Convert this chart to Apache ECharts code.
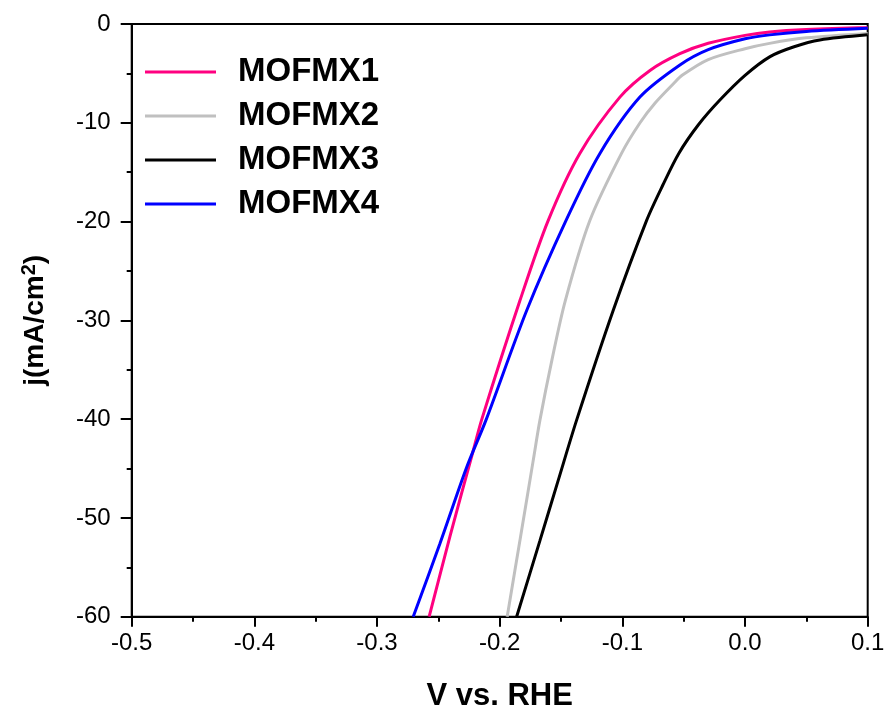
<!DOCTYPE html>
<html>
<head>
<meta charset="utf-8">
<script src="https://cdn.jsdelivr.net/npm/echarts@6/dist/echarts.min.js"></script>
<style>
html,body{margin:0;padding:0;background:#fff;}
#chart{width:888px;height:708px;}
</style>
</head>
<body>
<div id="chart"></div>
<script>
// Series names
var seriesNames = ['MOFMX1', 'MOFMX2', 'MOFMX3', 'MOFMX4'];

// [V vs. RHE, j (mA/cm2)]
var mofmx1 = [[-0.2575,-60],[-0.2406,-51.9],[-0.2216,-43.2],[-0.2148,-40.1],[-0.1835,-28],[-0.1605,-19.9],[-0.1347,-13.1],[-0.102,-7.4],[-0.0775,-4.7],[-0.0531,-3.0],[-0.03,-1.95],[0,-1.15],[0.02,-0.8],[0.05,-0.55],[0.1,-0.35]];
var mofmx2 = [[-0.1939,-60],[-0.183,-51.9],[-0.1727,-44.2],[-0.1672,-40.1],[-0.1574,-34],[-0.1465,-28],[-0.1265,-19.9],[-0.1007,-13.1],[-0.0856,-10],[-0.0733,-8],[-0.058,-6],[-0.051,-5.17],[-0.03,-3.6],[0,-2.5],[0.02,-1.96],[0.05,-1.4],[0.1,-0.95]];
var mofmx3 = [[-0.1862,-60],[-0.1672,-52.3],[-0.1523,-46.2],[-0.1373,-40.1],[-0.1075,-29],[-0.0803,-19.9],[-0.067,-16.3],[-0.054,-13.1],[-0.038,-10.2],[-0.0205,-7.7],[0,-5.2],[0.0204,-3.3],[0.04,-2.3],[0.061,-1.62],[0.1,-1.1]];
var mofmx4 = [[-0.2705,-60],[-0.2487,-52.6],[-0.227,-44.9],[-0.2112,-40.1],[-0.178,-29],[-0.146,-19.9],[-0.1183,-13.1],[-0.0857,-7.4],[-0.0531,-4.15],[-0.03,-2.6],[0,-1.5],[0.02,-1.1],[0.05,-0.75],[0.1,-0.44]];

var xTicks = [-0.5, -0.4, -0.3, -0.2, -0.1, 0.0, 0.1];
var yTicks = [-60, -50, -40, -30, -20, -10, 0];

var colors = ['#FF0080', '#C0C0C0', '#000000', '#0000FF'];
var FONT = 'Liberation Sans';

var chart = echarts.init(document.getElementById('chart'), null, {renderer: 'canvas'});

function mkSeries(name, data, color, z) {
  return {
    name: name, type: 'line', data: data, smooth: 0.3, showSymbol: false, symbol: 'none',
    lineStyle: {color: color, width: 3}, itemStyle: {color: color}, z: z, clip: true
  };
}

var lineIcon = 'path://M0,6 L71,6 L71,9 L0,9 Z';

var option = {
  animation: false,
  backgroundColor: '#fff',
  textStyle: {fontFamily: FONT},
  grid: {left: 131.7, right: 20.3, top: 24, bottom: 91.3, show: true, borderColor: '#000', borderWidth: 2, backgroundColor: 'transparent', containLabel: false, outerBoundsMode: 'none'},
  legend: {
    orient: 'vertical', left: 140, top: 50,
    itemWidth: 71, itemHeight: 14, itemGap: 10,
    data: seriesNames.map(function (n) { return {name: n, icon: lineIcon}; }),
    textStyle: {fontFamily: FONT, fontWeight: 'bold', fontSize: 33, color: '#000', lineHeight: 34, padding: [0, 0, 0, 17]}
  },
  xAxis: {
    type: 'value', min: xTicks[0], max: xTicks[xTicks.length - 1], interval: 0.1,
    name: 'V vs. RHE', nameLocation: 'middle', nameGap: 64,
    nameTextStyle: {fontFamily: FONT, fontWeight: 'bold', fontSize: 31, color: '#000'},
    axisLine: {show: true, onZero: false, lineStyle: {color: '#000', width: 2}},
    axisTick: {show: true, inside: false, length: 10, lineStyle: {color: '#000', width: 2}},
    minorTick: {show: true, splitNumber: 2, length: 5, lineStyle: {color: '#000', width: 2}},
    splitLine: {show: false},
    axisLabel: {
      fontFamily: FONT, fontSize: 24, color: '#000', margin: 15,
      formatter: function (v) { if (Math.abs(v) < 1e-9) return '0.0'; return v.toFixed(1); }
    }
  },
  yAxis: {
    type: 'value', min: yTicks[0], max: yTicks[yTicks.length - 1], interval: 10,
    name: '{a|j(mA/cm}{b|2}{a|)}', nameLocation: 'middle', nameGap: 80, nameRotate: 90,
    nameTextStyle: {
      fontFamily: FONT, fontWeight: 'bold', fontSize: 28, color: '#000',
      rich: {
        a: {fontFamily: FONT, fontWeight: 'bold', fontSize: 28, color: '#000', lineHeight: 32},
        b: {fontFamily: FONT, fontWeight: 'bold', fontSize: 20, color: '#000', lineHeight: 32, verticalAlign: 'top', padding: [0, 0, 10, 0]}
      }
    },
    axisLine: {show: true, onZero: false, lineStyle: {color: '#000', width: 2}},
    axisTick: {show: true, inside: false, length: 11, lineStyle: {color: '#000', width: 2}},
    minorTick: {show: true, splitNumber: 2, length: 5, lineStyle: {color: '#000', width: 2}},
    splitLine: {show: false},
    axisLabel: {fontFamily: FONT, fontSize: 24, color: '#000', margin: 21}
  },
  series: [
    mkSeries(seriesNames[1], mofmx2, colors[1], 2),
    mkSeries(seriesNames[2], mofmx3, colors[2], 3),
    mkSeries(seriesNames[0], mofmx1, colors[0], 4),
    mkSeries(seriesNames[3], mofmx4, colors[3], 5)
  ]
};
chart.setOption(option);
</script>
</body>
</html>
